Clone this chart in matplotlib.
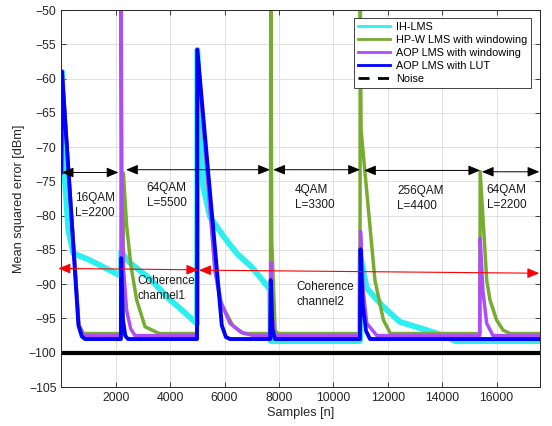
import numpy as np
import matplotlib
matplotlib.use("Agg")
import matplotlib.pyplot as plt
from matplotlib.lines import Line2D

plt.rcParams['font.family'] = ['Liberation Sans', 'DejaVu Sans']

# breakpoints (samples, dBm)
ih_n = [0, 25, 100, 257, 441, 1000, 1600, 2190, 2200, 2500, 3260, 4000, 4500, 4990,
        5000, 5220, 5467, 6000, 6450, 7000, 7680, 7700, 10980, 11000, 11230, 11840,
        12450, 13430, 14040, 14500, 17600]
ih_mse = [-73.7, -59, -73, -82.1, -85.5, -86.4, -87.6, -88.8, -85.3, -86.8, -89.2, -92.3, -94, -95.8,
          -55.8, -75.8, -80.2, -83.2, -85.5, -87.5, -90.8, -98.3, -98.3, -86, -90.6, -93.3,
          -95.5, -96.7, -97.5, -98.3, -98.3]

hpw_n = [0, 25, 650, 820, 2270, 2280, 2404, 2563, 2770, 3077, 3600, 4990, 5000, 5650,
         5900, 6300, 6700, 7690, 7700, 7735, 7860, 7950, 10980, 10990, 11020, 11530, 11840,
         12100, 15390, 15400, 15640, 15760, 16000, 16240, 16500, 17600]
hpw_mse = [-73.7, -59, -96, -97.2, -97.2, -73.8, -81.6, -87.4, -92.3, -96.2, -97.2, -97.2, -55.8, -88,
           -93, -96, -97.2, -97.2, -40, -83.6, -96.7, -97.2, -97.2, -45, -67.5, -89.4, -95.2,
           -97.2, -97.2, -73.6, -89.4, -92.3, -95.2, -96.7, -97.2, -97.2]

aopw_n = [0, 25, 640, 800, 2190, 2200, 2230, 2290, 2400, 2550, 2710, 4990, 5000, 5650,
          5835, 6200, 6600, 7050, 7680, 7700, 7760, 7850, 10980, 11000, 11100, 11230,
          11600, 15380, 15400, 15500, 15640, 15870, 17600]
aopw_mse = [-73.7, -59, -96, -97.5, -97.5, -49, -80, -88, -93.8, -96.5, -97.5, -97.5, -55.8, -88,
            -92.3, -95.7, -97, -97.5, -97.5, -86.8, -95, -97.5, -97.5, -82.3, -91, -95.7,
            -97.5, -97.5, -83.3, -91, -95.7, -97.5, -97.5]

lut_n = [0, 25, 630, 750, 870, 2190, 2200, 2260, 2350, 2450, 4990, 5000, 5900, 6050,
         6200, 7680, 7700, 7760, 7850, 10980, 11000, 11080, 11200, 11350, 17600]
lut_mse = [-73.7, -59, -96, -97.6, -98, -98, -86.2, -95, -97.5, -98, -98, -55.8, -96, -97.7,
           -98, -98, -89.4, -96.5, -98, -98, -84.9, -93, -96.8, -98, -98]

noise_n = [0, 17600]
noise_mse = [-100, -100]

# modulation segments
mod_names = ['16QAM\nL=2200', '64QAM\nL=5500', '4QAM\nL=3300', '256QAM\nL=4400', '64QAM\nL=2200']
mod_start = [15, 2380, 7790, 11130, 15460]
mod_end = [2100, 7670, 10980, 15400, 17575]
mod_arrow_y = [-73.7, -73.3, -73.3, -73.4, -73.6]
mod_text_x = [500, 3140, 8590, 12350, 15640]
mod_text_y = [-78.5, -77.0, -77.3, -77.5, -77.3]

# coherence channels
coh_names = ['Coherence\nchannel1', 'Coherence\nchannel2']
coh_start = [-110, 5060]
coh_end = [5040, 17575]
coh_y0 = [-87.7, -87.95]
coh_y1 = [-87.9, -88.4]
coh_text_x = [2795, 8655]
coh_text_y = [-90.6, -91.5]

c_ih = '#2CF0F0'
c_hpw = '#77AC30'
c_aopw = '#AE4CFA'
c_lut = '#0000FF'

fig = plt.figure(figsize=(5.52, 4.26), dpi=100)
ax = fig.add_axes([0.1111, 0.0915, 0.8672, 0.885])

ax.plot(ih_n, ih_mse, color=c_ih, lw=4.2, solid_joinstyle='round')
ax.plot(hpw_n, hpw_mse, color=c_hpw, lw=2.5, solid_joinstyle='round')
ax.plot(aopw_n, aopw_mse, color=c_aopw, lw=2.5, solid_joinstyle='round')
ax.plot(lut_n, lut_mse, color=c_lut, lw=2.8, solid_joinstyle='round')
ax.plot(noise_n, noise_mse, color='black', lw=3)

arrow_style = '<|-|>,head_length=0.6,head_width=0.25'
for name, s, e, y, tx, ty in zip(mod_names, mod_start, mod_end, mod_arrow_y, mod_text_x, mod_text_y):
    ax.annotate('', xy=(e, y), xytext=(s, y),
                arrowprops=dict(arrowstyle=arrow_style, color='black', lw=0.7,
                                shrinkA=0, shrinkB=0, mutation_scale=12),
                annotation_clip=False)
    ax.text(tx, ty, name, fontsize=8.5, ha='left', va='center', linespacing=1.35, color='#1a1a1a')

for name, s, e, y0, y1, tx, ty in zip(coh_names, coh_start, coh_end, coh_y0, coh_y1, coh_text_x, coh_text_y):
    ax.annotate('', xy=(e, y1), xytext=(s, y0),
                arrowprops=dict(arrowstyle=arrow_style, color='red', lw=0.8,
                                shrinkA=0, shrinkB=0, mutation_scale=12),
                annotation_clip=False)
    ax.text(tx, ty, name, fontsize=8.5, ha='left', va='center', linespacing=1.35, color='#1a1a1a')

ax.set_xlim(0, 17600)
ax.set_ylim(-105, -50)
ax.set_xticks(np.arange(2000, 17000, 2000))
ax.set_yticks(np.arange(-105, -49, 5))
ax.grid(True, color='#dcdcdc', lw=0.6)
ax.set_axisbelow(True)
ax.tick_params(direction='in', length=3.5, width=0.6, top=True, right=True,
               labelsize=8.8, colors='#262626')
for sp in ax.spines.values():
    sp.set_color('#262626')
    sp.set_linewidth(0.7)
ax.set_xlabel('Samples [n]', fontsize=9.2, color='#262626', labelpad=2)
ax.set_ylabel('Mean squared error [dBm]', fontsize=9.2, color='#262626', labelpad=3)

handles = [Line2D([], [], color=c_ih, lw=2),
           Line2D([], [], color=c_hpw, lw=2),
           Line2D([], [], color=c_aopw, lw=2),
           Line2D([], [], color=c_lut, lw=2),
           Line2D([], [], color='black', lw=2, ls=(0, (4, 3)))]
labels = ['IH-LMS', 'HP-W LMS with windowing', 'AOP LMS with windowing',
          'AOP LMS with LUT', 'Noise']
leg = ax.legend(handles, labels, loc='upper right', bbox_to_anchor=(0.981, 0.978),
                borderaxespad=0, fontsize=7.8, fancybox=False, framealpha=1,
                edgecolor='#262626', handlelength=3.0, labelspacing=0.28,
                borderpad=0.35, handletextpad=0.5)
leg.get_frame().set_linewidth(0.6)

fig.savefig('out.png', dpi=100)
